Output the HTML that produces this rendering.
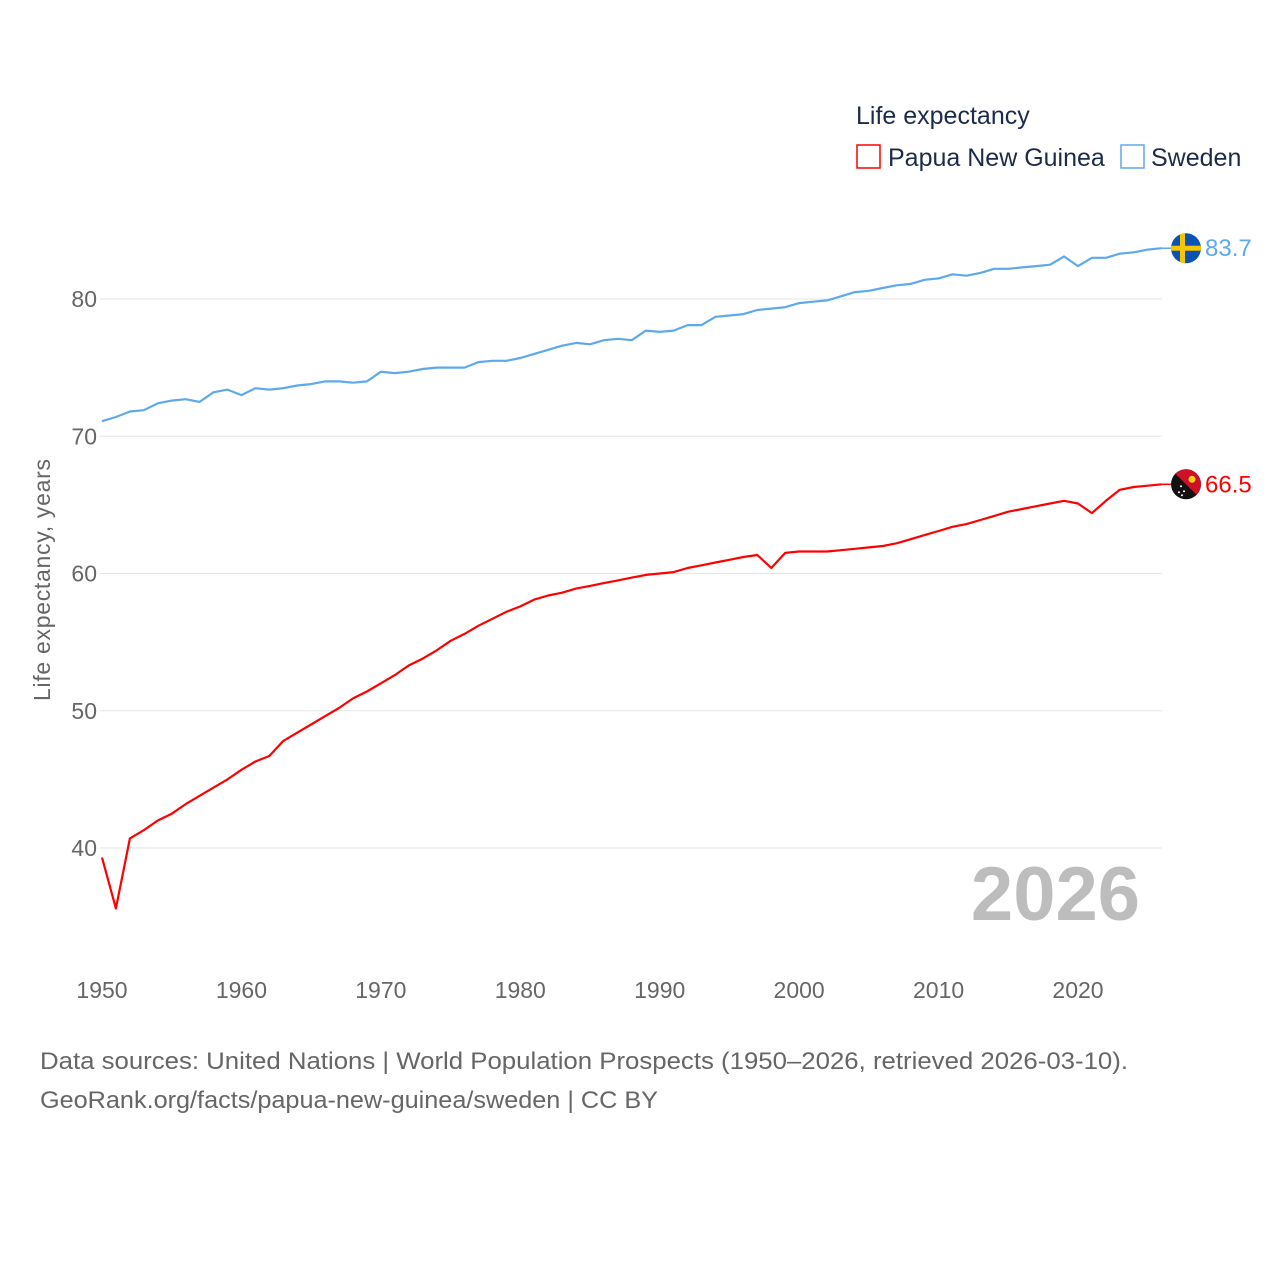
<!DOCTYPE html>
<html><head><meta charset="utf-8"><style>
body{margin:0;background:#fff;}
svg text{font-family:"Liberation Sans",sans-serif;}
</style></head><body>
<svg id="chart" width="1280" height="1280" viewBox="0 0 1280 1280" xmlns="http://www.w3.org/2000/svg">
<rect width="1280" height="1280" fill="#fff"/>
<g id="grid"></g><g id="yticks"></g><g id="xticks"></g>
<text transform="translate(50,580) rotate(-90)" text-anchor="middle" font-size="23" fill="#666" textLength="242">Life expectancy, years</text>
<text x="1140" y="920" text-anchor="end" font-size="76" font-weight="bold" fill="#bdbdbd">2026</text>
<g id="series"></g>
<g>
<text x="856" y="124" font-size="25" fill="#1d2b4a">Life expectancy</text>
<g><rect x="857" y="145" width="23" height="23" fill="none" stroke="#ff0000" stroke-width="1.5"/><text x="888" y="166" font-size="25" fill="#1d2b4a">Papua New Guinea</text></g>
<g><rect x="1121" y="145" width="23" height="23" fill="none" stroke="#5ea8ee" stroke-width="1.5"/><text x="1151" y="166" font-size="25" fill="#1d2b4a">Sweden</text></g>
</g>
<text x="40" y="1069" font-size="24" fill="#666" textLength="1088" lengthAdjust="spacingAndGlyphs">Data sources: United Nations | World Population Prospects (1950–2026, retrieved 2026-03-10).</text>
<text x="40" y="1108" font-size="24" fill="#666" textLength="618" lengthAdjust="spacingAndGlyphs">GeoRank.org/facts/papua-new-guinea/sweden | CC BY</text>
</svg>
<script>
const years=[];for(let y=1950;y<=2026;y++)years.push(y);
const sweden=[71.1,71.4,71.8,71.9,72.4,72.6,72.7,72.5,73.2,73.4,73.0,73.5,73.4,73.5,73.7,73.8,74.0,74.0,73.9,74.0,74.7,74.6,74.7,74.9,75.0,75.0,75.0,75.4,75.5,75.5,75.7,76.0,76.3,76.6,76.8,76.7,77.0,77.1,77.0,77.7,77.6,77.7,78.1,78.1,78.7,78.8,78.9,79.2,79.3,79.4,79.7,79.8,79.9,80.2,80.5,80.6,80.8,81.0,81.1,81.4,81.5,81.8,81.7,81.9,82.2,82.2,82.3,82.4,82.5,83.1,82.4,83.0,83.0,83.3,83.4,83.6,83.7];
const png=[39.3,35.6,40.7,41.3,42.0,42.5,43.2,43.8,44.4,45.0,45.7,46.3,46.7,47.8,48.4,49.0,49.6,50.2,50.9,51.4,52.0,52.6,53.3,53.8,54.4,55.1,55.6,56.2,56.7,57.2,57.6,58.1,58.4,58.6,58.9,59.1,59.3,59.5,59.7,59.9,60.0,60.1,60.4,60.6,60.8,61.0,61.2,61.35,60.4,61.5,61.6,61.6,61.6,61.7,61.8,61.9,62.0,62.2,62.5,62.8,63.1,63.4,63.6,63.9,64.2,64.5,64.7,64.9,65.1,65.3,65.1,64.4,65.3,66.1,66.3,66.4,66.5];
const yTicks=[40,50,60,70,80];
const xTicks=[1950,1960,1970,1980,1990,2000,2010,2020];
const NS="http://www.w3.org/2000/svg";
const X=y=>102+(y-1950)*(976/70);
const Y=v=>299+(80-v)*13.725;
function mk(tag,attrs,parent){const e=document.createElementNS(NS,tag);for(const k in attrs)e.setAttribute(k,attrs[k]);parent.appendChild(e);return e;}
const grid=document.getElementById('grid'),yt=document.getElementById('yticks'),xt=document.getElementById('xticks'),ser=document.getElementById('series');
yTicks.forEach(v=>{
 const l=mk('line',{x1:100,x2:1162,y1:Y(v),y2:Y(v),stroke:'#e6e6e6','stroke-width':1},grid);
 
 
 const t=mk('text',{x:97,y:Y(v)+8,'text-anchor':'end','font-size':23,fill:'#666'},yt);t.textContent=v;
 
 
});
xTicks.forEach(v=>{
 const t=mk('text',{x:X(v),y:998,'text-anchor':'middle','font-size':23,fill:'#666'},xt);t.textContent=v;
 
 
});
function line(vals,color,name){
 const d=vals.map((v,i)=>(i?'L':'M')+X(years[i]).toFixed(1)+','+Y(v).toFixed(1)).join('');
 const p=mk('path',{d:d,fill:'none',stroke:color,'stroke-width':2.2,'stroke-linejoin':'round'},ser);
 
 
 const last=vals[vals.length-1],lx=X(years[years.length-1]),ly=Y(last);
 mk('line',{x1:lx,x2:1172,y1:ly,y2:ly,stroke:color,'stroke-width':1.5},ser);
 return [last,ly];
}
const [sv,sy]=line(sweden,'#5ea8ee','sweden-line');
const [pv,py]=line(png,'#ff0000','png-line');
const sf=mk('g',{},ser);


const cs=mk('clipPath',{id:'cs'},sf);mk('circle',{cx:1186,cy:sy,r:15},cs);
const sg=mk('g',{'clip-path':'url(#cs)'},sf);
mk('rect',{x:1170,y:sy-16,width:32,height:32,fill:'#0a52b3'},sg);
mk('rect',{x:1170,y:sy-2.5,width:32,height:5,fill:'#f7c600'},sg);
mk('rect',{x:1180,y:sy-16,width:5,height:32,fill:'#f7c600'},sg);
const st=mk('text',{x:1205,y:sy+8,'font-size':24,fill:'#5ea8ee'},ser);st.textContent=sv.toFixed(1);


const pf=mk('g',{},ser);


const cp=mk('clipPath',{id:'cp'},pf);mk('circle',{cx:1186,cy:py,r:15},cp);
const pg=mk('g',{'clip-path':'url(#cp)'},pf);
mk('rect',{x:1170,y:py-16,width:32,height:32,fill:'#111'},pg);
mk('polygon',{points:`1170,${py-16} 1202,${py-16} 1202,${py+16}`,fill:'#ce1126'},pg);
mk('circle',{cx:1192,cy:py-5,r:3.5,fill:'#fcd116'},pg);
[[1181,py+2],[1184,py+7],[1179,py+8],[1182,py+11]].forEach(([a,b])=>mk('circle',{cx:a,cy:b,r:1,fill:'#fff'},pg));
const pt=mk('text',{x:1205,y:py+8,'font-size':24,fill:'#ff0000'},ser);pt.textContent=pv.toFixed(1);


</script>
</body></html>
